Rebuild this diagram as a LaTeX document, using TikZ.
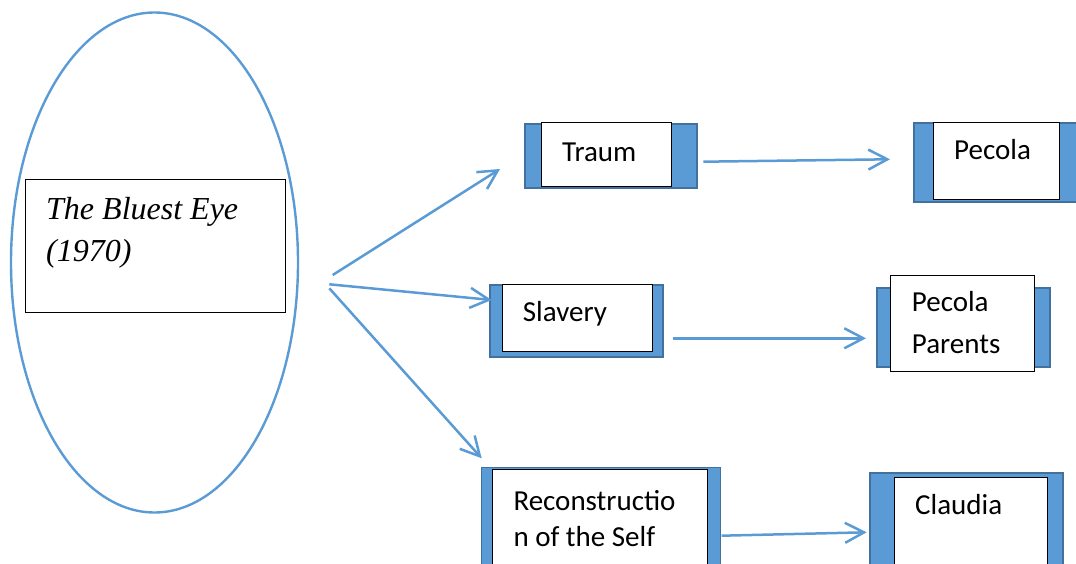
\documentclass[tikz,border=0pt]{standalone}
\usepackage{fontspec}
\setmainfont{Carlito}
\newfontfamily\titlefont{Liberation Serif}
\usetikzlibrary{shapes.geometric, arrows.meta}
\definecolor{accent}{HTML}{5B9BD5}
\definecolor{accentdark}{HTML}{41719C}

\begin{document}
\begin{tikzpicture}[x = 1pt, y = -1pt, > = {Straight Barb[length=19pt, width=20pt]},
    bluebox/.style = {draw=accentdark, fill=accent, line width=1.5pt, inner sep=0pt},
    whitebox/.style = {draw=black, fill=white, line width=0.8pt, inner sep=0pt},
    boxtext/.style = {anchor=base west, inner sep=0pt, align=left, font=\fontsize{29}{41}\selectfont},
    link/.style = {->, draw=accent, line width=2.5pt}]
    \useasboundingbox (0,0) rectangle (1076,564);

    % the novel
    \node[ellipse, draw=accent, line width=2.4pt, inner sep=0pt,
          minimum width=287pt, minimum height=500pt] (eye) at (154.5,262.5) {};
    \node[whitebox, minimum width=260pt, minimum height=133pt] (title) at (155,245.7) {};
    % base of a two-line node is its last line
    \node[boxtext, font=\titlefont\itshape\fontsize{32}{42.4}\selectfont] (titletext) at (46,261.7) {The Bluest Eye\\(1970)};

    % middle column
    \node[bluebox, minimum width=172pt, minimum height=64pt] (traumback) at (611,156) {};
    \node[whitebox, minimum width=130pt, minimum height=64pt] (traum) at (606,154) {};
    \node[boxtext] (traumtext) at (562,161.7) {Traum};

    \node[bluebox, minimum width=173pt, minimum height=72pt] (slaveryback) at (576.5,321) {};
    \node[whitebox, minimum width=150pt, minimum height=67pt] (slavery) at (577.7,317.5) {};
    \node[boxtext] (slaverytext) at (522.7,321.7) {Slavery};

    \node[bluebox, minimum width=239pt, minimum height=105pt] (reconback) at (601.2,520) {};
    \node[whitebox, minimum width=215pt, minimum height=102pt] (recon) at (600.3,520) {};
    \node[boxtext, font=\fontsize{29}{36.7}\selectfont] (recontext) at (513.3,546.7) {Reconstructio\\n of the Self};

    % right column
    \node[bluebox, minimum width=164pt, minimum height=79pt] (pecolaback) at (996,162.5) {};
    \node[whitebox, minimum width=126pt, minimum height=77pt] (pecola) at (996,160.5) {};
    \node[boxtext] (pecolatext) at (954,160) {Pecola};

    \node[bluebox, minimum width=173pt, minimum height=79pt] (parentsback) at (963.3,327.3) {};
    \node[whitebox, minimum width=144pt, minimum height=96pt] (parents) at (962.8,323) {};
    \node[boxtext, font=\fontsize{29}{41.3}\selectfont] (parentstext) at (911.7,353) {Pecola\\Parents};

    \node[bluebox, minimum width=193pt, minimum height=98pt] (claudiaback) at (966.5,522) {};
    \node[whitebox, minimum width=153pt, minimum height=94pt] (claudia) at (970.5,524) {};
    \node[boxtext] (claudiatext) at (915,514) {Claudia};

    % arrow ends
    \coordinate (fromeye1) at (332.7,275);
    \coordinate (fromeye2) at (329.3,284.3);
    \coordinate (fromeye3) at (329.3,288.3);
    \coordinate (totraum) at (500,169);
    \coordinate (toslavery) at (491.7,300);
    \coordinate (torecon) at (481.7,458.3);
    \coordinate (fromtraum) at (703.3,161.7);
    \coordinate (topecola) at (890,159.3);
    \coordinate (fromslavery) at (672.7,338.3);
    \coordinate (toparents) at (866,338.3);
    \coordinate (fromrecon) at (721.7,535.7);
    \coordinate (toclaudia) at (866.7,532.3);

    \draw[link] (fromeye1) -- (totraum);
    \draw[link] (fromeye2) -- (toslavery);
    \draw[link] (fromeye3) -- (torecon);
    \draw[link] (fromtraum) -- (topecola);
    \draw[link] (fromslavery) -- (toparents);
    \draw[link] (fromrecon) -- (toclaudia);
\end{tikzpicture}
\end{document}
